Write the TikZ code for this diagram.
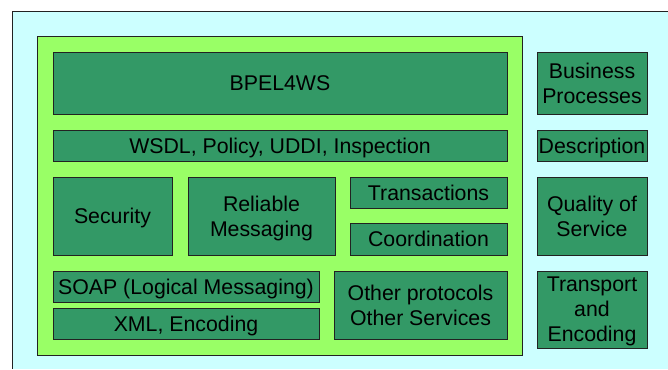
\documentclass[tikz,border=0pt]{standalone}
\usepackage{fontspec}
\setmainfont{Liberation Sans}
\usepackage{xcolor}
\usetikzlibrary{positioning}

\definecolor{skycyan}{HTML}{CCFFFF}
\definecolor{limegreen}{HTML}{99FF66}
\definecolor{layergreen}{HTML}{339966}
\definecolor{edgegray}{HTML}{222222}

\begin{document}
\begin{tikzpicture}[x=1pt, y=-1pt,
        layer/.style={draw=edgegray, line width=0.9pt, fill=layergreen, inner sep=0pt, outer sep=0pt,
            align=center, font=\fontsize{21.3}{25}\selectfont, text depth=0pt}]

        \useasboundingbox (0,0) rectangle (668,369);

        % background panels
        \fill[skycyan] (12,11) rectangle (668,369);
        \draw[edgegray, line width=0.9pt] (12,369) -- (12,11) -- (668,11);
        \draw[edgegray, line width=0.9pt, fill=limegreen] (37,36) rectangle (522,355);

        % stack of specifications
        \node[layer, minimum width=454, minimum height=62] (bpel) at (280,83) {BPEL4WS};
        \node[layer, minimum width=454, minimum height=31] (wsdl) at (280,145.5) {WSDL, Policy, UDDI, Inspection};

        \node[layer, minimum width=119, minimum height=78] (sec) at (112.5,216) {Security};
        \node[layer, minimum width=147, minimum height=78] (rel) at (261.5,216) {Reliable\\Messaging};
        \node[layer, minimum width=157, minimum height=31] (trans) at (428.5,192.5) {Transactions};
        \node[layer, minimum width=157, minimum height=32] (coord) at (428.5,239) {Coordination};

        \node[layer, minimum width=266, minimum height=31] (soap) at (186,286.5) {SOAP (Logical Messaging)};
        \node[layer, minimum width=266, minimum height=31] (xml) at (186,323.5) {XML, Encoding};
        \node[layer, minimum width=173, minimum height=68] (other) at (420.5,305) {Other protocols\\Other Services};

        % category labels
        \node[layer, minimum width=110, minimum height=62] (bus) at (592,83) {Business\\Processes};
        \node[layer, minimum width=110, minimum height=31] (desc) at (592,145.5) {Description};
        \node[layer, minimum width=110, minimum height=78] (qos) at (592,216) {Quality of\\Service};
        \node[layer, minimum width=110, minimum height=77] (trn) at (592,309.5) {Transport\\and\\Encoding};
    \end{tikzpicture}
\end{document}
